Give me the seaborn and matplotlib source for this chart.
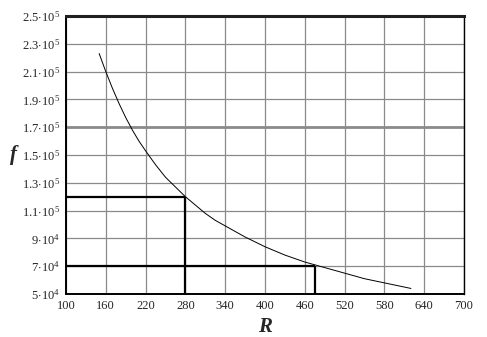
import numpy as np
import pandas as pd
import seaborn as sns
import matplotlib.pyplot as plt

# curve f(R)
R = [150, 160, 170, 180, 190, 200, 210, 220, 235, 250, 265, 280, 295, 310, 325, 340,
     355, 370, 385, 400, 430, 460, 490, 520, 550, 580, 620]
f = [223000, 210000, 198000, 187000, 177000, 168000, 160000, 153000, 143000, 134000,
     127000, 120000, 114000, 108000, 103000, 99000, 95000, 91000, 87500, 84000,
     78000, 73000, 69000, 65000, 61000, 58000, 54000]

# guide lines: (R, f) of the two read-off points
mark_R = [280, 475]
mark_f = [120000, 70000]

x_ticks = [100, 160, 220, 280, 340, 400, 460, 520, 580, 640, 700]
y_ticks = [50000, 70000, 90000, 110000, 130000, 150000, 170000, 190000, 210000, 230000, 250000]
y_labels = [r"$5\!\cdot\!10^4$", r"$7\!\cdot\!10^4$", r"$9\!\cdot\!10^4$",
            r"$1.1\!\cdot\!10^5$", r"$1.3\!\cdot\!10^5$", r"$1.5\!\cdot\!10^5$",
            r"$1.7\!\cdot\!10^5$", r"$1.9\!\cdot\!10^5$", r"$2.1\!\cdot\!10^5$",
            r"$2.3\!\cdot\!10^5$", r"$2.5\!\cdot\!10^5$"]

sns.set_style("white")
plt.rcParams['font.family'] = ['Liberation Serif', 'DejaVu Serif']
plt.rcParams['mathtext.fontset'] = 'custom'
plt.rcParams['mathtext.rm'] = 'Liberation Serif'
plt.rcParams['mathtext.it'] = 'Liberation Serif:italic'

fig = plt.figure(figsize=(4.87, 3.37), dpi=100)
ax = fig.add_axes([0.1355, 0.1276, 0.8173, 0.8249])

df = pd.DataFrame({"R": R, "f": f})
sns.lineplot(data=df, x="R", y="f", ax=ax, color="black", linewidth=0.7, zorder=3)

for r, v in zip(mark_R, mark_f):
    ax.hlines(v, 100, r, color="black", linewidth=1.6, zorder=4)
    ax.vlines(r, 50000, v, color="black", linewidth=1.6, zorder=4)

ax.set_xlim(100, 700)
ax.set_ylim(50000, 250000)
ax.set_xticks(x_ticks)
ax.set_xticklabels([str(t) for t in x_ticks], fontsize=9)
ax.set_yticks(y_ticks)
ax.set_yticklabels(y_labels, fontsize=9)
ax.tick_params(length=0, pad=4)

ax.grid(True, color="#8a8a8a", linewidth=0.9)
for gl in ax.get_ygridlines():
    if abs(gl.get_ydata()[0] - 170000) < 1:
        gl.set_linewidth(2.0)

for side in ["left", "bottom", "right"]:
    ax.spines[side].set_color("black")
    ax.spines[side].set_linewidth(1.4)
ax.spines["right"].set_linewidth(1.0)
ax.spines["top"].set_color("#202020")
ax.spines["top"].set_linewidth(2.2)

ax.set_xlabel("R", fontsize=15, fontweight="bold", fontstyle="italic", labelpad=4)
ax.set_ylabel("")
fig.text(0.028, 0.54, "f", fontsize=15, fontweight="bold", fontstyle="italic",
         ha="center", va="center")

fig.savefig("out.png", dpi=100)
